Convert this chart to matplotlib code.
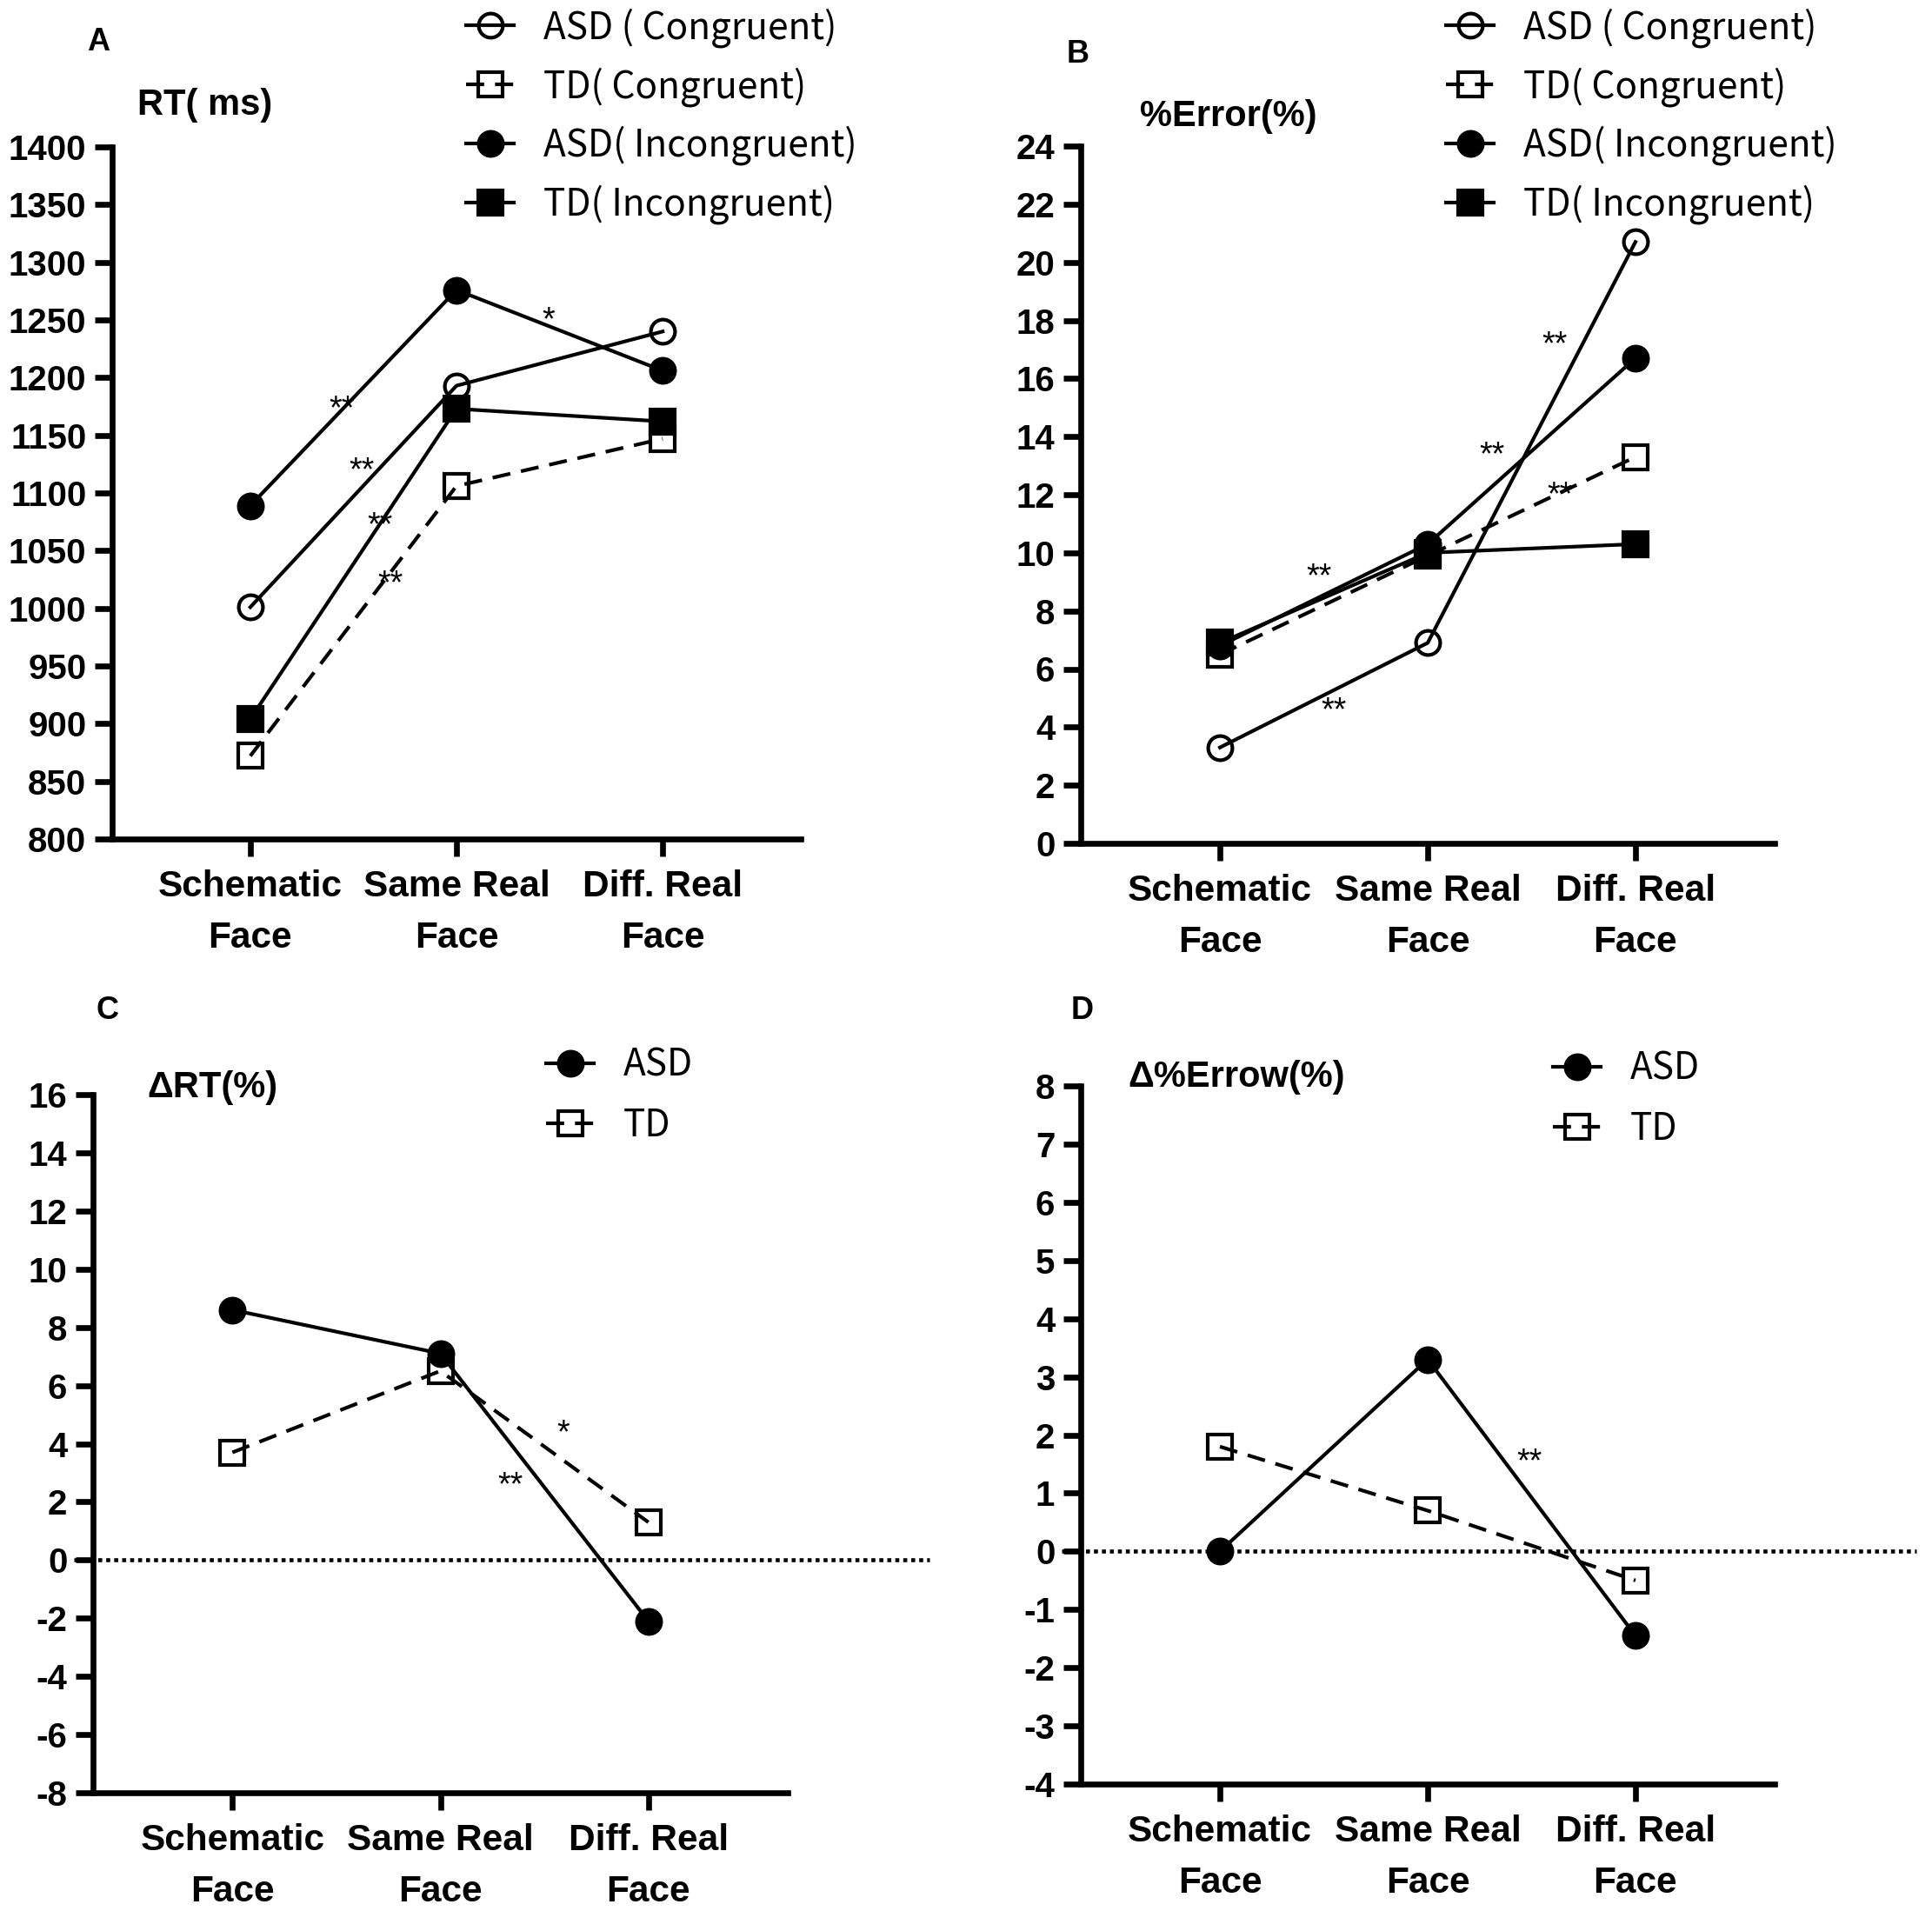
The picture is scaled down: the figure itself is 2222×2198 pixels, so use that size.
import matplotlib
matplotlib.use('Agg')
import matplotlib.pyplot as plt
from matplotlib.font_manager import FontProperties

W, H = 2222, 2198

# ---------------- data ----------------
categories = ['Schematic\nFace', 'Same Real\nFace', 'Diff. Real\nFace']

rt_asd_con = [1001, 1193, 1240]
rt_td_con = [872, 1106, 1147]
rt_asd_inc = [1089, 1276, 1206]
rt_td_inc = [904, 1173, 1162]

err_asd_con = [3.3, 6.9, 20.7]
err_td_con = [6.5, 9.9, 13.3]
err_asd_inc = [6.8, 10.3, 16.7]
err_td_inc = [6.9, 10.0, 10.3]

drt_asd = [8.6, 7.1, -2.1]
drt_td = [3.7, 6.5, 1.3]

derr_asd = [0.0, 3.3, -1.45]
derr_td = [1.8, 0.7, -0.5]

labels4 = ['ASD ( Congruent)', 'TD( Congruent)', 'ASD( Incongruent)', 'TD( Incongruent)']
labels2 = ['ASD', 'TD']

stars_a = [(0.445, 1180, '**'), (0.54, 1127, '**'), (0.628, 1079, '**'),
           (0.681, 1029, '**'), (1.444, 1257, '*')]
stars_b = [(0.477, 9.46, '**'), (0.548, 4.86, '**'), (1.31, 13.66, '**'),
           (1.61, 17.45, '**'), (1.635, 12.3, '**')]
stars_c = [(1.59, 4.66, '*'), (1.336, 2.87, '**')]
stars_d = [(1.49, 1.69, '**')]

# ---------------- style ----------------
plt.rcParams['font.family'] = ['Liberation Sans', 'Noto Sans CJK SC', 'DejaVu Sans']
LW = 3.0
MS = 20
MEW = 3.0
SPW = 4.8
DASH = (0, (5.0, 3.0))

fig = plt.figure(figsize=(W / 100, H / 100), dpi=100)


def make_ax(left, bottom, right, top):
    ax = fig.add_axes([left / W, 1 - bottom / H, (right - left) / W, (bottom - top) / H])
    for s in ['top', 'right']:
        ax.spines[s].set_visible(False)
    for s in ['left', 'bottom']:
        ax.spines[s].set_linewidth(SPW)
    ax.tick_params(axis='y', length=14.4, width=SPW, pad=7)
    ax.tick_params(axis='x', length=14.4, width=SPW, pad=11)
    ax.set_xlim(-0.67, 2.67)
    ax.set_xticks(range(len(categories)))
    ax.set_xticklabels(categories, fontsize=30.5, fontweight='bold', linespacing=1.62)
    return ax


def finish_y(ax, ticks):
    ax.set_ylim(ticks[0], ticks[-1])
    ax.set_yticks(ticks)
    ax.set_yticklabels([str(t) for t in ticks], fontsize=29, fontweight='bold')


def series(ax, y, marker, filled, dashed):
    return ax.plot(range(len(y)), y, color='black', lw=LW,
                   linestyle=DASH if dashed else '-',
                   marker=marker, ms=MS, mew=MEW, mec='black',
                   mfc='black' if filled else 'none', clip_on=False, zorder=3)[0]


def stars(ax, items):
    for x, y, s in items:
        ax.annotate(s, (x, y), xytext=(0, -15), textcoords='offset points',
                    ha='center', va='baseline', fontsize=27, color='black')


def legend(ax, handles, labels, x_px, y_px, spacing):
    ax.legend(handles, labels, loc='upper left',
              bbox_to_anchor=(x_px / W, 1 - y_px / H), bbox_transform=fig.transFigure,
              frameon=False, borderpad=0, borderaxespad=0, handlelength=1.3,
              handletextpad=0.8, labelspacing=spacing,
              prop=FontProperties(family=['Noto Sans CJK SC', 'DejaVu Sans'], size=30.5))


def ylabel(text, x_px, y_px):
    fig.text(x_px / W, 1 - y_px / H, text, ha='left', va='center', fontsize=30,
             fontweight='bold')


def letter(text, x_px, y_px):
    fig.text(x_px / W, 1 - y_px / H, text, ha='center', va='center', fontsize=26,
             fontweight='bold')


def zero_line(ax):
    ax.axhline(0, xmin=-0.027, xmax=1.204, color='black', lw=3.3,
               linestyle=(0, (1, 1)), clip_on=False, zorder=2)


# ---------------- Panel A ----------------
axA = make_ax(129, 965, 921, 169)
hA = [series(axA, rt_asd_con, 'o', False, False),
      series(axA, rt_td_con, 's', False, True),
      series(axA, rt_asd_inc, 'o', True, False),
      series(axA, rt_td_inc, 's', True, False)]
finish_y(axA, list(range(800, 1401, 50)))
stars(axA, stars_a)
legend(axA, hA, labels4, 536, 9, 0.52)
ylabel('RT( ms)', 158, 121)
letter('A', 113, 49)

# ---------------- Panel B ----------------
axB = make_ax(1243, 970, 2041, 168)
hB = [series(axB, err_asd_con, 'o', False, False),
      series(axB, err_td_con, 's', False, True),
      series(axB, err_asd_inc, 'o', True, False),
      series(axB, err_td_inc, 's', True, False)]
finish_y(axB, list(range(0, 25, 2)))
stars(axB, stars_b)
legend(axB, hB, labels4, 1663, 9, 0.52)
ylabel('%Error(%)', 1311, 134)
letter('B', 1240, 62)

# ---------------- Panel C ----------------
axC = make_ax(107, 2062, 906, 1259)
zero_line(axC)
hC = [series(axC, drt_asd, 'o', True, False),
      series(axC, drt_td, 's', False, True)]
finish_y(axC, list(range(-8, 17, 2)))
stars(axC, stars_c)
legend(axC, hC, labels2, 628, 1204, 0.58)
ylabel('ΔRT(%)', 169, 1251)
letter('C', 123, 1162)

# ---------------- Panel D ----------------
axD = make_ax(1243, 2052, 2041, 1249)
zero_line(axD)
hD = [series(axD, derr_asd, 'o', True, False),
      series(axD, derr_td, 's', False, True)]
finish_y(axD, list(range(-4, 9, 1)))
stars(axD, stars_d)
legend(axD, hD, labels2, 1786, 1208, 0.58)
ylabel('Δ%Errow(%)', 1297, 1239)
letter('D', 1245, 1162)

fig.savefig('out.png', dpi=100)
